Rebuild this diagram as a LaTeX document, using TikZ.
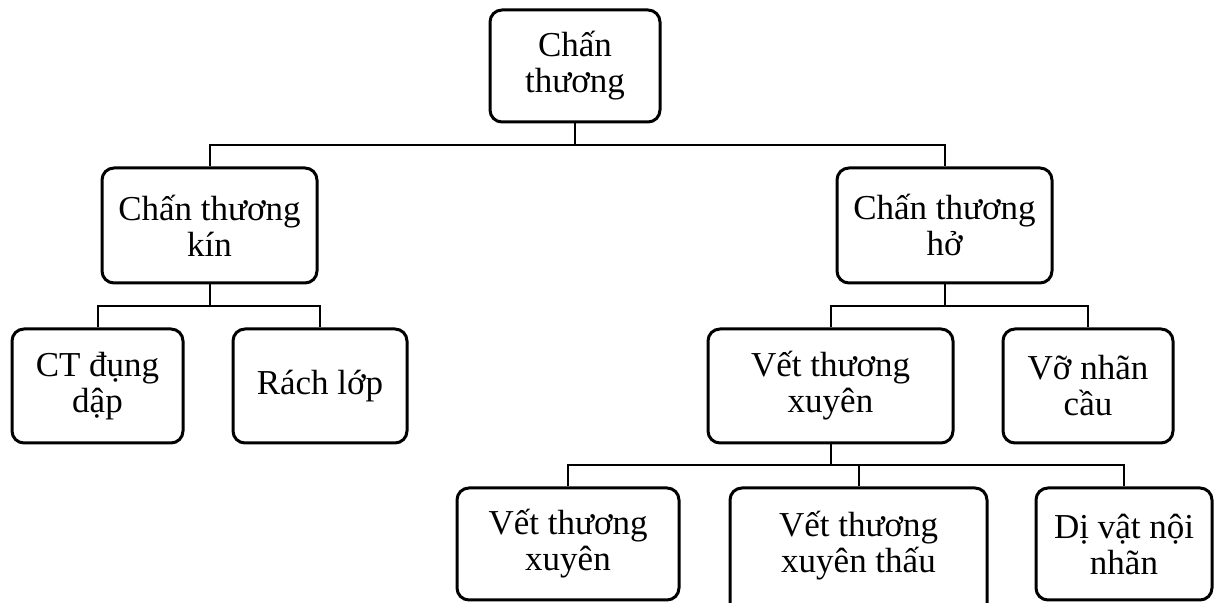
\documentclass[tikz,border=0pt]{standalone}
\usepackage{fontspec}
\setmainfont{Liberation Serif}
\tikzset{
	box/.style={draw, line width=1.5pt, rounded corners=6pt, align=center, inner sep=2pt,
		font=\fontsize{17.5}{18}\selectfont},
	link/.style={line width=1pt}
}
\begin{document}
\begin{tikzpicture}[x=0.5pt, y=-0.5pt]
		\useasboundingbox (0,0) rectangle (1221,603);

		\node[box, minimum width=85pt, minimum height=56pt] (top) at (575, 66) {Chấn\\thương};
		\node[box, minimum width=107.5pt, minimum height=57.5pt] (kin) at (209.5, 225.5) {Chấn thương\\kín};
		\node[box, minimum width=107.5pt, minimum height=57.5pt] (ho) at (944.5, 225.5) {Chấn thương\\hở};
		\node[box, minimum width=85.5pt, minimum height=57pt] (dap) at (97.5, 386) {CT đụng\\dập};
		\node[box, minimum width=87pt, minimum height=57pt] (rach) at (320, 386) {Rách lớp};
		\node[box, minimum width=122.5pt, minimum height=57pt] (xuyen) at (830.5, 386) {Vết thương\\xuyên};
		\node[box, minimum width=85pt, minimum height=57pt] (vo) at (1088, 386) {Vỡ nhãn\\cầu};
		\node[box, minimum width=111pt, minimum height=56pt] (vtx) at (568, 544) {Vết thương\\xuyên};
		\node[box, minimum width=128.5pt, minimum height=66pt, text depth=12pt] (vtxt) at (858.5, 554) {Vết thương\\xuyên thấu};
		\node[box, minimum width=88pt, minimum height=56pt] (divat) at (1124, 544) {Dị vật nội\\nhãn};

		\coordinate (busA) at (0, 145);
		\coordinate (busB) at (0, 306);
		\coordinate (busC) at (0, 465);

		\draw[link] (top.south) -- (top.south |- busA);
		\draw[link] (kin.north) |- (ho.north |- busA) -- (ho.north);
		\draw[link] (kin.south) -- (kin.south |- busB);
		\draw[link] (dap.north) |- (rach.north |- busB) -- (rach.north);
		\draw[link] (ho.south) -- (ho.south |- busB);
		\draw[link] (xuyen.north) |- (vo.north |- busB) -- (vo.north);
		\draw[link] (xuyen.south) -- (xuyen.south |- busC);
		\draw[link] (vtx.north) |- (divat.north |- busC) -- (divat.north);
		\draw[link] (vtxt.north) -- (vtxt.north |- busC);

	\end{tikzpicture}
\end{document}
